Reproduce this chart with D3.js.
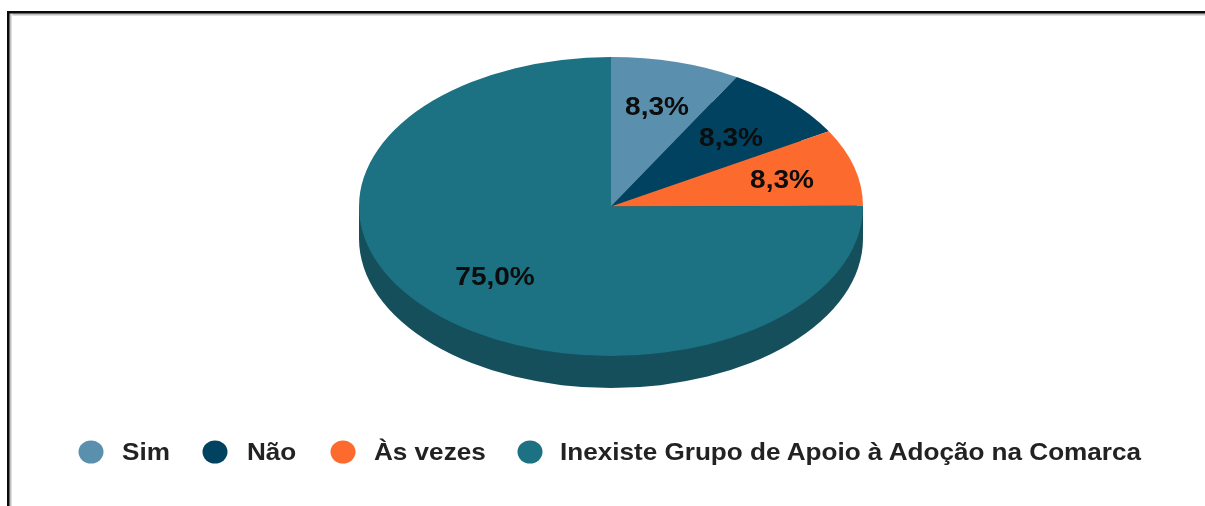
<!DOCTYPE html>
<html>
<head>
<meta charset="utf-8">
<script src="https://cdn.jsdelivr.net/npm/d3@7"></script>
<style>
  html, body { margin: 0; padding: 0; background: #fff; }
  text { font-family: "Liberation Sans", Arial, sans-serif; font-weight: bold; }
</style>
</head>
<body>
<div class="chart"></div>
<script>
const categories = ["Sim", "Não", "Às vezes", "Inexiste Grupo de Apoio à Adoção na Comarca"];
const values = [8.3, 8.3, 8.3, 75.0];
const labels = ["8,3%", "8,3%", "8,3%", "75,0%"];
const colors = ["#5a90ad", "#03435f", "#fd6b2e", "#1b7182"];
const sideColor = "#16505c";

const width = 1205, height = 506;
const cx = 611, cy = 206.5, rx = 252, ry = 149.5, depth = 32;

const svg = d3.select(".chart").append("svg")
    .attr("width", width)
    .attr("height", height)
    .style("display", "block");

const defs = svg.append("defs");
defs.append("filter").attr("id", "soft")
    .append("feGaussianBlur").attr("stdDeviation", 0.7);
const shade = defs.append("linearGradient").attr("id", "shadeTop")
    .attr("x1", 0).attr("x2", 0).attr("y1", 0).attr("y2", 1);
shade.append("stop").attr("offset", 0).attr("stop-color", "#a0a0a0");
shade.append("stop").attr("offset", 1).attr("stop-color", "#fff");
const shadeL = defs.append("linearGradient").attr("id", "shadeLeft");
shadeL.append("stop").attr("offset", 0).attr("stop-color", "#a0a0a0");
shadeL.append("stop").attr("offset", 1).attr("stop-color", "#fff");

// frame, only top and left are visible
const frame = svg.append("g");
frame.append("rect").attr("x", 9.5).attr("y", 13.5).attr("width", width - 9).attr("height", 3).attr("fill", "url(#shadeTop)");
frame.append("rect").attr("x", 9.5).attr("y", 13.5).attr("width", 3).attr("height", height - 13).attr("fill", "url(#shadeLeft)");
frame.append("rect").attr("x", 7).attr("y", 11).attr("width", width - 7).attr("height", 2.5).attr("fill", "#0a0a0a");
frame.append("rect").attr("x", 7).attr("y", 11).attr("width", 2.5).attr("height", height - 11).attr("fill", "#0a0a0a");

const plot = svg.append("g").attr("filter", "url(#soft)");

const pie = d3.pie().sort(null).value(d => d);
const arcs = pie(values);
const arc = d3.arc().innerRadius(0).outerRadius(rx);

// side wall of the disc
plot.append("ellipse")
    .attr("cx", cx).attr("cy", cy + depth)
    .attr("rx", rx).attr("ry", ry)
    .attr("fill", sideColor);
plot.append("rect")
    .attr("x", cx - rx).attr("y", cy)
    .attr("width", rx * 2).attr("height", depth)
    .attr("fill", sideColor);

plot.append("g")
    .attr("transform", `translate(${cx},${cy}) scale(1,${ry / rx})`)
    .selectAll("path")
    .data(arcs)
    .enter()
    .append("path")
    .attr("d", arc)
    .attr("fill", (d, i) => colors[i]);

// slice labels
const labelPos = [[657, 107], [731, 138], [782, 180], [495, 277]];
plot.selectAll("text.value")
    .data(labels)
    .enter()
    .append("text")
    .attr("class", "value")
    .attr("transform", (d, i) => `translate(${labelPos[i][0]},${labelPos[i][1]}) scale(1.12,1)`)
    .attr("text-anchor", "middle")
    .attr("dominant-baseline", "central")
    .attr("font-size", 25)
    .attr("fill", "#0a0a0a")
    .text(d => d);

// legend
const legendX = [91, 215, 343, 530];
const textX = [122, 247, 374, 560];
const legend = plot.append("g");
legend.selectAll("ellipse")
    .data(categories)
    .enter()
    .append("ellipse")
    .attr("cx", (d, i) => legendX[i])
    .attr("cy", 452)
    .attr("rx", 12.5)
    .attr("ry", 11.5)
    .attr("fill", (d, i) => colors[i]);
legend.selectAll("text")
    .data(categories)
    .enter()
    .append("text")
    .attr("transform", (d, i) => `translate(${textX[i]},460) scale(1.135,1)`)
    .attr("font-size", 23)
    .attr("fill", "#222")
    .text(d => d);
</script>
</body>
</html>
